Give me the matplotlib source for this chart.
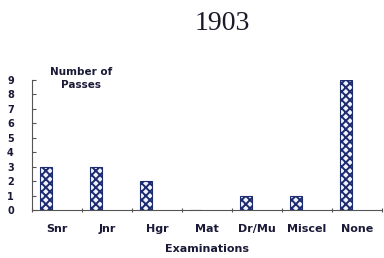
import numpy as np
import matplotlib.pyplot as plt

# donnees
exams = ["Snr", "Jnr", "Hgr", "Mat", "Dr/Mu", "Miscel", "None"]
passes = [3, 3, 2, 0, 1, 1, 9]
yticks = list(range(0, 10))

plt.rcParams['hatch.color'] = '#3646a0'
plt.rcParams['hatch.linewidth'] = 1.4

txt = '#1a1a38'
fig = plt.figure(figsize=(3.84, 2.58), dpi=100)
ax = fig.add_axes([0.083, 0.186, 0.912, 0.504])

x = np.arange(len(exams))
ax.bar(x - 0.22, passes, width=0.25, color='#f2f4fb', edgecolor='#1c2a70',
       hatch='xxxx', linewidth=0.8)

ax.set_xlim(-0.5, len(exams) - 0.5)
ax.set_ylim(0, 9)
ax.set_yticks(yticks)
ax.set_yticklabels([str(v) for v in yticks], fontsize=7, fontweight='bold', color=txt)
ax.set_xticks(np.arange(len(exams) + 1) - 0.5)
ax.set_xticklabels([])
ax.set_xticks(x, minor=True)
ax.set_xticklabels(exams, minor=True, fontsize=8, fontweight='bold', color=txt)
ax.tick_params(axis='x', which='minor', length=0, pad=10)
ax.tick_params(axis='x', which='major', length=3, direction='inout', color='#555555')
ax.tick_params(axis='y', length=3, direction='in', pad=13, color='#555555')

ax.spines['top'].set_visible(False)
ax.spines['right'].set_visible(False)
ax.spines['left'].set_color('#555555')
ax.spines['bottom'].set_color('#555555')

ax.text(0.14, 1.01, "Number of\nPasses", transform=ax.transAxes, ha='center', va='center',
        fontsize=7.5, fontweight='bold', linespacing=1.3, color=txt)
ax.set_xlabel("Examinations", fontsize=8, fontweight='bold', labelpad=7, color=txt)

fig.text(0.58, 0.91, "1903", ha='center', va='center', fontsize=20,
         family='Liberation Serif', color='#1a1a2a')

fig.savefig("out.png", dpi=100)
